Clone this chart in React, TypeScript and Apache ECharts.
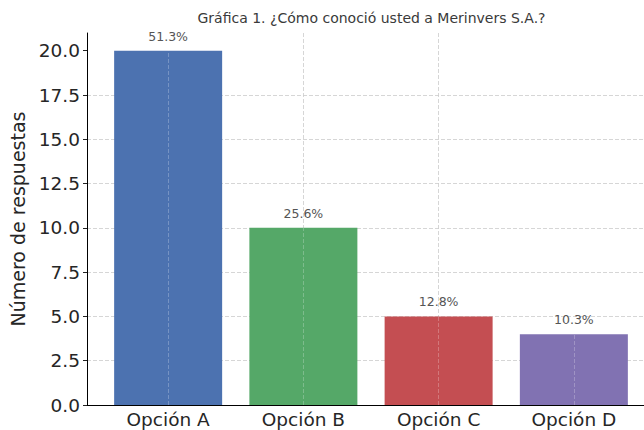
import React, { useEffect, useRef } from "react";
import * as echarts from "echarts";

const categories = ["Opción A", "Opción B", "Opción C", "Opción D"];
const values = [20, 10, 5, 4];
const percentLabels = ["51.3%", "25.6%", "12.8%", "10.3%"];
const barColors = ["#4C72B0", "#55A868", "#C44E52", "#8172B2"];
const yTicks = [0, 2.5, 5, 7.5, 10, 12.5, 15, 17.5, 20];
const xPositions = [0, 1, 2, 3];
const titleText = "Gráfica 1. ¿Cómo conoció usted a Merinvers S.A.?";
const yAxisName = "Número de respuestas";

const FONT = "DejaVu Sans";

export default function App() {
  const ref = useRef<HTMLDivElement>(null);
  useEffect(() => {
    if (!ref.current) return;
    const chart = echarts.init(ref.current, null, { renderer: "svg" });
    const gridLine = { color: "#cccccc", width: 0.8, type: [4, 2] as any };
    chart.setOption({
      animation: false,
      backgroundColor: "#ffffff",
      graphic: [
        {
          type: "text",
          x: 371.5,
          y: 18,
          style: {
            text: titleText,
            fontFamily: FONT,
            fontSize: 14,
            fill: "#3a3a3a",
            textAlign: "center",
            textVerticalAlign: "middle",
          },
        },
      ],
      grid: { left: 87, right: 5, top: 33, bottom: 25, containLabel: false },
      xAxis: {
        type: "value",
        min: -0.6,
        max: 3.6,
        splitLine: { show: true, showMinLine: false, showMaxLine: false, lineStyle: gridLine },
        axisLine: { show: true, onZero: false, lineStyle: { color: "#000", width: 1 } },
        axisTick: {
          show: true,
          inside: true,
          length: 4,
          customValues: xPositions,
          lineStyle: { color: "#222", width: 1 },
        },
        axisLabel: {
          customValues: xPositions,
          formatter: (v: number) => categories[Math.round(v)] ?? "",
          fontFamily: FONT,
          fontSize: 18.5,
          color: "#262626",
          margin: 5,
        },
      },
      yAxis: {
        type: "value",
        min: 0,
        max: 21,
        interval: 2.5,
        name: yAxisName,
        nameLocation: "middle",
        nameGap: 55,
        nameTextStyle: { fontFamily: FONT, fontSize: 19, color: "#262626" },
        axisLine: { show: true, onZero: false, lineStyle: { color: "#000", width: 1 } },
        axisTick: {
          show: true,
          inside: false,
          length: 4,
          customValues: yTicks,
          lineStyle: { color: "#222", width: 1 },
        },
        axisLabel: {
          customValues: yTicks,
          formatter: (v: number) => v.toFixed(1),
          fontFamily: FONT,
          fontSize: 18.5,
          color: "#262626",
          margin: 7,
        },
        splitLine: { show: true, showMaxLine: false, lineStyle: gridLine },
      },
      series: [
        {
          type: "bar",
          barWidth: 108,
          data: xPositions.map((x, i) => ({
            value: [x, values[i]],
            itemStyle: { color: barColors[i] },
            label: {
              show: true,
              position: "top",
              distance: 8,
              formatter: percentLabels[i],
              fontFamily: FONT,
              fontSize: 12.5,
              color: "#555555",
            },
          })),
          markLine: {
            silent: true,
            symbol: ["none", "none"],
            label: { show: false },
            emphasis: { disabled: true },
            lineStyle: { color: "rgba(255,255,255,0.3)", width: 0.8, type: [4, 2] },
            data: xPositions.map((x, i) => [
              { coord: [x, 0] },
              { coord: [x, values[i]] },
            ]),
          },
        },
      ],
    });
    return () => chart.dispose();
  }, []);
  return (
    <div
      style={{
        position: "fixed",
        left: 0,
        top: 0,
        width: 644,
        height: 430,
        overflow: "hidden",
        background: "#fff",
      }}
    >
      <div ref={ref} style={{ width: 660, height: 430 }} />
    </div>
  );
}
